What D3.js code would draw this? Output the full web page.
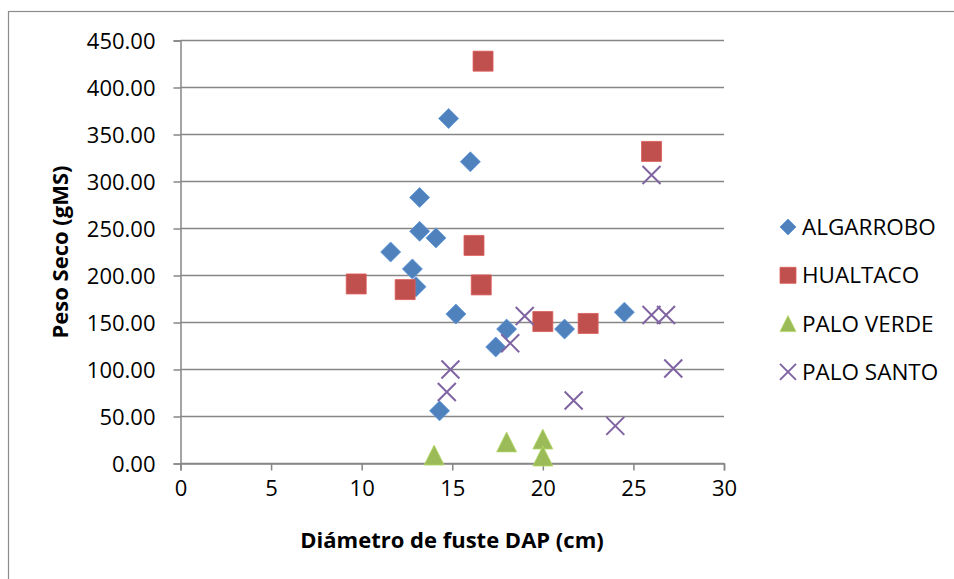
<!DOCTYPE html>
<html>
<head>
<meta charset="utf-8">
<script src="https://cdn.jsdelivr.net/npm/d3@7"></script>
<style>
  body { margin: 0; background: #fff; }
  svg text { font-family: "Open Sans", "Noto Sans", sans-serif; fill: #000; }
</style>
</head>
<body>
<div id="chart"></div>
<script>
// Series (DAP cm, peso seco gMS)
const algarroboX = [14.8, 16.0, 13.2, 13.2, 14.1, 11.6, 12.8, 13.0, 15.2, 18.0, 17.4, 21.2, 24.5, 14.3];
const algarroboY = [367, 321, 283, 247, 240, 225, 207, 188, 159, 143, 124, 143, 161, 56];
const hualtacoX = [16.7, 26.0, 16.2, 9.7, 12.4, 16.6, 20.0, 22.5];
const hualtacoY = [428, 332, 232, 191, 185, 190, 151, 149];
const paloVerdeX = [14.0, 18.0, 20.0, 20.0];
const paloVerdeY = [9, 23, 26, 8];
const paloSantoX = [26.0, 26.0, 26.8, 19.0, 18.2, 14.9, 14.7, 21.7, 24.0, 27.2];
const paloSantoY = [307, 158, 158, 157, 128, 100, 76, 67, 40, 101];

const seriesNames = ["ALGARROBO", "HUALTACO", "PALO VERDE", "PALO SANTO"];
const xTicks = [0, 5, 10, 15, 20, 25, 30];
const yTicks = [0, 50, 100, 150, 200, 250, 300, 350, 400, 450];

const series = [
  { name: seriesNames[0], xs: algarroboX, ys: algarroboY, color: "#4F81BD", shape: "diamond" },
  { name: seriesNames[1], xs: hualtacoX, ys: hualtacoY, color: "#C0504D", shape: "square" },
  { name: seriesNames[2], xs: paloVerdeX, ys: paloVerdeY, color: "#9BBB59", shape: "triangle" },
  { name: seriesNames[3], xs: paloSantoX, ys: paloSantoY, color: "#8064A2", shape: "x" }
];

const width = 954, height = 579;

const svg = d3.select("#chart").append("svg")
  .attr("width", width)
  .attr("height", height);

// chart frame (runs off the right and bottom)
svg.append("rect")
  .attr("x", 8.5).attr("y", 11.5)
  .attr("width", 1000).attr("height", 1000)
  .attr("fill", "#fff")
  .attr("stroke", "#8c8c8c")
  .attr("stroke-width", 1.2);

const x = d3.scaleLinear().domain([0, 30]).range([180.5, 724]);
const y = d3.scaleLinear().domain([0, 450]).range([463.5, 40.5]);

// gridlines
svg.append("g")
  .selectAll("line")
  .data(yTicks)
  .join("line")
  .attr("x1", x(0)).attr("x2", x(30))
  .attr("y1", d => y(d)).attr("y2", d => y(d))
  .attr("stroke", "#868686")
  .attr("stroke-width", 1.5);

// Y axis
const yAxis = svg.append("g")
  .attr("transform", `translate(${x(0)},0)`)
  .call(d3.axisLeft(y).tickValues(yTicks).tickFormat(d3.format(".2f")).tickSize(7).tickPadding(18));
yAxis.select(".domain").attr("stroke", "#868686").attr("stroke-width", 1.5);
yAxis.selectAll(".tick line").attr("stroke", "#868686").attr("stroke-width", 1.5);
yAxis.selectAll("text").style("font-size", "22px").attr("dy", "0.35em");

// X axis
const xAxis = svg.append("g")
  .attr("transform", `translate(0,${y(0)})`)
  .call(d3.axisBottom(x).tickValues(xTicks).tickSize(7).tickPadding(10));
xAxis.select(".domain").attr("stroke", "#868686").attr("stroke-width", 1.5);
xAxis.selectAll(".tick line").attr("stroke", "#868686").attr("stroke-width", 1.5);
xAxis.selectAll("text").style("font-size", "22px");

// axis titles
svg.append("text")
  .attr("x", 452).attr("y", 548)
  .attr("text-anchor", "middle")
  .style("font-size", "22px")
  .style("font-weight", "bold")
  .text("Diámetro de fuste DAP (cm)");

svg.append("text")
  .attr("transform", "rotate(-90)")
  .attr("x", -252).attr("y", 68)
  .attr("text-anchor", "middle")
  .style("font-size", "22px")
  .style("font-weight", "bold")
  .text("Peso Seco (gMS)");

// marker shapes
function markerPath(shape, s) {
  const h = s / 2;
  if (shape === "diamond") return `M0,${-h}L${h},0L0,${h}L${-h},0Z`;
  if (shape === "square") return `M${-h},${-h}H${h}V${h}H${-h}Z`;
  if (shape === "triangle") return `M0,${-h}L${h},${h}L${-h},${h}Z`;
  return `M${-h},${-h}L${h},${h}M${h},${-h}L${-h},${h}`;
}

function drawMarker(g, shape, color, s) {
  const p = g.append("path").attr("d", markerPath(shape, s));
  if (shape === "x") {
    p.attr("fill", "none").attr("stroke", color).attr("stroke-width", 2);
  } else {
    p.attr("fill", color).attr("stroke", d3.color(color).brighter(0.4)).attr("stroke-width", 0.8);
  }
}

// points
series.forEach(s => {
  const pts = s.xs.map((v, i) => [v, s.ys[i]]);
  const g = svg.append("g");
  pts.forEach(p => {
    const m = g.append("g").attr("transform", `translate(${x(p[0])},${y(p[1])})`);
    drawMarker(m, s.shape, s.color, s.shape === "x" ? 18 : 20);
  });
});

// legend
const legend = svg.append("g").attr("transform", "translate(788,227)");
series.forEach((s, i) => {
  const row = legend.append("g").attr("transform", `translate(0,${i * 48.3})`);
  drawMarker(row, s.shape, s.color, 16);
  row.append("text")
    .attr("x", 14).attr("y", 0)
    .attr("dy", "0.36em")
    .style("font-size", "22.5px")
    .text(s.name);
});
</script>
</body>
</html>
